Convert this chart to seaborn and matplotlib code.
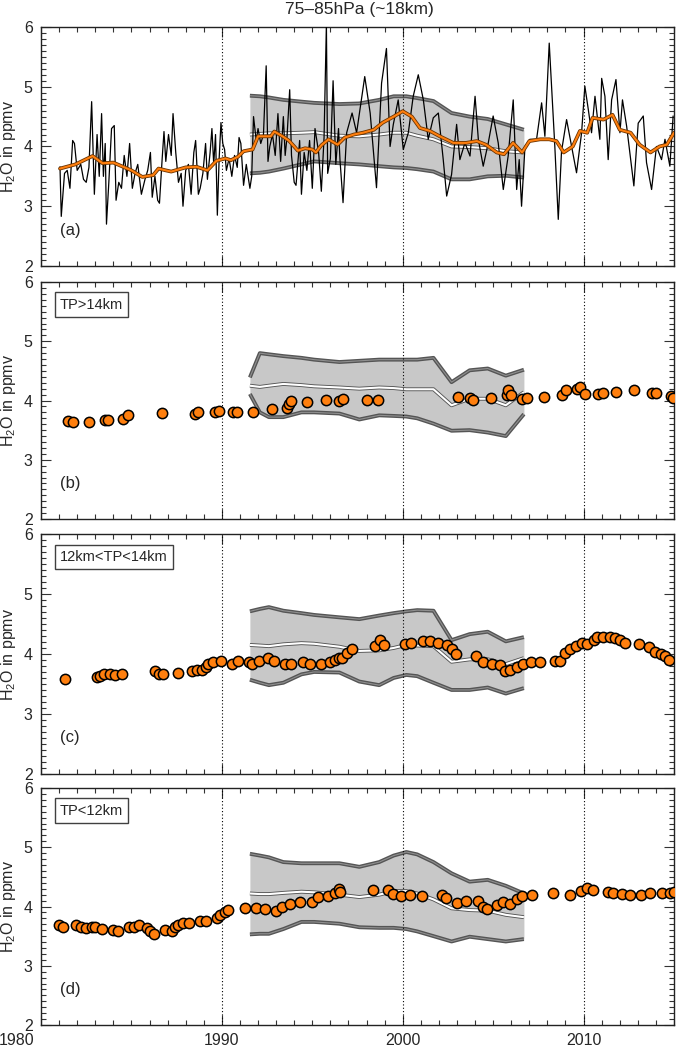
import numpy as np
import pandas as pd
import matplotlib
matplotlib.use('Agg')
import matplotlib.pyplot as plt
import matplotlib.patheffects as pe
import matplotlib.transforms as mtransforms
from matplotlib.ticker import MultipleLocator
import seaborn as sns

# Panel (a): monthly series (black) and running mean (orange)
raw_year = [1981.05, 1981.12, 1981.3, 1981.45, 1981.6, 1981.75, 1981.85, 1982.0, 1982.2, 1982.35,
            1982.5, 1982.65, 1982.8, 1982.95, 1983.1, 1983.22, 1983.35, 1983.45, 1983.55, 1983.62,
            1983.75, 1983.9, 1984.05, 1984.15, 1984.3, 1984.45, 1984.6, 1984.75, 1984.9, 1985.05,
            1985.2, 1985.35, 1985.55, 1985.75, 1985.9, 1986.05, 1986.15, 1986.3, 1986.45, 1986.55,
            1986.7, 1986.8, 1986.9, 1987.05, 1987.2, 1987.3, 1987.45, 1987.6, 1987.75, 1987.85,
            1988.0, 1988.15, 1988.3, 1988.45, 1988.55, 1988.7, 1988.8, 1988.95, 1989.1, 1989.2,
            1989.35, 1989.45, 1989.55, 1989.65, 1989.75, 1989.85, 1989.95, 1990.05, 1990.15, 1990.25,
            1990.4, 1990.55, 1990.7, 1990.85, 1990.95, 1991.05, 1991.2, 1991.35, 1991.55, 1991.65,
            1991.75, 1991.9, 1992.0, 1992.15, 1992.3, 1992.45, 1992.55, 1992.65, 1992.8, 1992.95,
            1993.1, 1993.25, 1993.4, 1993.5, 1993.6, 1993.75, 1993.85, 1994.0, 1994.1, 1994.3,
            1994.4, 1994.55, 1994.7, 1994.85, 1995.0, 1995.15, 1995.35, 1995.5, 1995.65, 1995.78,
            1995.85, 1996.0, 1996.15, 1996.3, 1996.45, 1996.53, 1996.7, 1996.9, 1997.2, 1997.45,
            1997.9, 1998.2, 1998.55, 1998.83, 1999.1, 1999.3, 1999.48, 1999.75, 2000.03, 2000.31,
            2000.58, 2000.86, 2001.14, 2001.41, 2001.69, 2001.97, 2002.24, 2002.43, 2002.7, 2002.98,
            2003.16, 2003.44, 2003.72, 2004.0, 2004.18, 2004.45, 2004.73, 2005.0, 2005.28, 2005.56,
            2005.83, 2006.11, 2006.3, 2006.44, 2006.57, 2006.76, 2007.03, 2007.4, 2007.68, 2007.86,
            2008.1, 2008.41, 2008.6, 2008.78, 2009.06, 2009.34, 2009.61, 2009.89, 2010.07, 2010.26,
            2010.44, 2010.63, 2010.9, 2011.0, 2011.18, 2011.36, 2011.55, 2011.79, 2012.01, 2012.15,
            2012.38, 2012.56, 2012.78, 2013.02, 2013.3, 2013.48, 2013.76, 2014.03, 2014.31, 2014.5,
            2014.77, 2014.95]
raw_h2o = [3.66, 2.83, 3.55, 3.6, 3.3, 4.1, 4.05, 3.6, 3.7, 3.45,
           3.4, 3.65, 4.75, 3.2, 4.2, 3.5, 4.55, 3.5, 4.05, 2.7,
           3.4, 4.3, 4.35, 3.1, 3.4, 3.3, 3.85, 3.5, 4.05, 3.3,
           3.55, 3.7, 3.2, 3.45, 3.6, 3.9, 3.15, 3.5, 3.1, 3.05,
           3.8, 4.25, 3.75, 4.2, 3.85, 4.55, 3.9, 3.4, 3.55, 3.0,
           3.6, 3.7, 3.2, 3.9, 4.1, 3.2, 3.3, 3.55, 4.05, 3.45,
           3.9, 4.3, 3.7, 4.2, 2.85, 3.8, 4.4, 4.05, 3.95, 3.6,
           3.8, 3.5, 3.85, 3.65, 4.15, 4.05, 3.35, 3.7, 3.3, 3.5,
           4.5, 4.1, 4.3, 4.05, 4.2, 5.35, 3.75, 4.0, 4.2, 3.85,
           4.55, 3.75, 4.5, 3.85, 4.15, 4.95, 3.85, 3.4, 3.35, 4.1,
           3.2, 3.9, 3.6, 4.1, 3.3, 4.3, 3.9, 3.25, 4.15, 6.05,
           3.55, 3.8, 5.1, 3.7, 4.3, 3.78, 3.06, 4.23, 4.56, 4.23,
           5.17, 4.56, 3.31, 5.06, 5.64, 4.0, 4.37, 4.78, 3.95, 4.23,
           4.84, 5.2, 4.78, 4.12, 4.48, 4.56, 3.78, 3.17, 3.53, 4.37,
           3.78, 4.06, 3.84, 4.84, 4.12, 3.67, 4.06, 4.51, 4.06, 3.28,
           3.84, 4.78, 3.28, 3.78, 3.0, 4.0, 4.12, 4.12, 4.73, 4.17,
           5.73, 4.0, 2.78, 3.92, 4.45, 4.0, 3.56, 4.23, 5.01, 4.62,
           4.23, 4.84, 4.12, 5.14, 4.84, 3.78, 4.78, 5.12, 4.23, 4.78,
           4.34, 3.89, 3.34, 4.39, 4.51, 3.73, 3.28, 4.0, 3.78, 4.12,
           3.67, 4.51]

mean_year = [1981.05, 1981.9, 1982.85, 1983.4, 1984.0, 1985.0, 1985.6, 1986.2, 1986.5, 1986.9,
             1987.2, 1988.0, 1988.6, 1989.2, 1989.7, 1990.2, 1990.5, 1990.9, 1991.2, 1991.7,
             1992.0, 1992.7, 1992.9, 1993.3, 1993.7, 1994.0, 1994.2, 1994.6, 1995.0, 1995.2,
             1995.5, 1995.9, 1996.4, 1996.8, 1997.3, 1997.8, 1998.4, 1998.9, 1999.5, 2000.0,
             2000.5, 2000.95, 2001.5, 2002.05, 2002.8, 2003.5, 2004.1, 2004.6, 2005.2, 2005.6,
             2006.1, 2006.6, 2007.0, 2007.6, 2008.1, 2008.5, 2008.9, 2009.4, 2009.8, 2010.2,
             2010.5, 2011.1, 2011.6, 2012.0, 2012.6, 2013.1, 2013.7, 2014.2, 2014.6, 2015.0]
mean_h2o = [3.63, 3.7, 3.84, 3.72, 3.73, 3.6, 3.49, 3.52, 3.63, 3.6,
            3.58, 3.65, 3.66, 3.6, 3.76, 3.8, 3.77, 3.83, 3.92, 3.95,
            4.17, 4.17, 4.25, 4.18, 4.1, 4.0, 3.93, 3.97, 3.95, 3.9,
            4.02, 4.12, 4.03, 4.15, 4.2, 4.23, 4.28, 4.4, 4.5, 4.59,
            4.5, 4.31, 4.26, 4.17, 4.06, 4.06, 4.09, 4.03, 3.9, 3.87,
            4.06, 3.9, 4.09, 4.12, 4.12, 4.09, 3.9, 4.0, 4.26, 4.23,
            4.48, 4.45, 4.53, 4.28, 4.23, 4.03, 3.9, 4.0, 4.03, 4.23]

# Grey bands (model range) for each panel
band_year = [1991.55, 1992.1, 1992.6, 1993.4, 1994.4, 1995.1, 1996.5, 1997.6, 1998.7, 1999.5,
             2000.2, 2000.8, 2001.7, 2002.7, 2003.7, 2004.7, 2005.7, 2006.7]
band_a_hi = [4.85, 4.84, 4.82, 4.78, 4.75, 4.73, 4.71, 4.72, 4.78, 4.84,
             4.84, 4.81, 4.76, 4.56, 4.5, 4.46, 4.37, 4.28]
band_a_mid = [4.2, 4.21, 4.22, 4.22, 4.23, 4.24, 4.18, 4.17, 4.2, 4.23,
              4.23, 4.18, 4.12, 4.0, 3.99, 3.97, 3.92, 3.9]
band_a_lo = [3.55, 3.56, 3.58, 3.63, 3.7, 3.75, 3.72, 3.7, 3.67, 3.65,
             3.64, 3.62, 3.58, 3.45, 3.45, 3.5, 3.51, 3.48]
band_b_hi = [4.39, 4.8, 4.78, 4.75, 4.72, 4.69, 4.65, 4.67, 4.69, 4.69,
             4.69, 4.69, 4.72, 4.31, 4.51, 4.54, 4.42, 4.52]
band_b_mid = [4.25, 4.23, 4.25, 4.28, 4.26, 4.24, 4.22, 4.2, 4.22, 4.21,
              4.19, 4.19, 4.19, 3.92, 4.03, 4.03, 3.92, 4.14]
band_b_lo = [4.11, 3.8, 3.72, 3.72, 3.8, 3.8, 3.78, 3.68, 3.75, 3.74,
             3.73, 3.7, 3.61, 3.49, 3.5, 3.46, 3.4, 3.77]
band_c_hi = [4.71, 4.75, 4.78, 4.72, 4.68, 4.65, 4.61, 4.58, 4.64, 4.68,
             4.71, 4.73, 4.72, 4.23, 4.33, 4.37, 4.21, 4.28]
band_c_mid = [4.15, 4.14, 4.13, 4.16, 4.18, 4.17, 4.12, 4.05, 4.06, 4.1,
              4.15, 4.14, 4.13, 3.87, 3.91, 3.91, 3.83, 3.93]
band_c_lo = [3.57, 3.52, 3.48, 3.52, 3.66, 3.7, 3.69, 3.54, 3.48, 3.6,
             3.65, 3.63, 3.52, 3.4, 3.4, 3.44, 3.34, 3.43]
band_d_hi = [4.89, 4.86, 4.83, 4.75, 4.73, 4.73, 4.73, 4.67, 4.75, 4.86,
             4.92, 4.88, 4.75, 4.56, 4.42, 4.45, 4.35, 4.22]
band_d_mid = [4.22, 4.21, 4.21, 4.23, 4.25, 4.24, 4.2, 4.16, 4.2, 4.26,
              4.26, 4.22, 4.12, 3.97, 3.94, 3.93, 3.86, 3.82]
band_d_lo = [3.53, 3.54, 3.54, 3.62, 3.74, 3.74, 3.71, 3.65, 3.64, 3.64,
             3.62, 3.58, 3.5, 3.41, 3.49, 3.45, 3.41, 3.45]

# Panel (b): TP>14km
b_year = [1981.5, 1981.78, 1982.67, 1983.53, 1983.72, 1984.55, 1984.8, 1986.67, 1988.51, 1988.69,
          1989.61, 1989.85, 1990.63, 1990.81, 1991.73, 1992.75, 1993.61, 1993.72, 1993.8, 1994.68,
          1995.75, 1996.5, 1996.7, 1998.0, 1998.65, 2003.07, 2003.7, 2003.86, 2004.86, 2005.74,
          2005.84, 2005.96, 2006.57, 2006.85, 2007.8, 2008.78, 2009.02, 2009.61, 2009.8, 2010.07,
          2010.81, 2011.05, 2011.79, 2012.78, 2013.76, 2014.03, 2014.83, 2014.96]
b_h2o = [3.66, 3.63, 3.63, 3.67, 3.67, 3.68, 3.75, 3.79, 3.78, 3.81,
         3.81, 3.82, 3.81, 3.81, 3.81, 3.86, 3.87, 3.94, 3.99, 3.98,
         4.01, 4.0, 4.03, 4.01, 4.01, 4.06, 4.04, 4.01, 4.04, 4.1,
         4.18, 4.1, 4.03, 4.04, 4.06, 4.1, 4.17, 4.19, 4.22, 4.11,
         4.11, 4.12, 4.14, 4.17, 4.12, 4.12, 4.08, 4.04]

# Panel (c): 12km<TP<14km
c_year = [1981.32, 1983.07, 1983.26, 1983.48, 1983.81, 1984.09, 1984.46, 1986.3, 1986.54, 1986.76,
          1987.55, 1988.33, 1988.6, 1988.88, 1989.12, 1989.25, 1989.49, 1989.93, 1990.54, 1990.9,
          1991.51, 1991.64, 1992.07, 1992.56, 1992.88, 1993.48, 1993.8, 1994.5, 1994.87, 1995.46,
          1995.97, 1996.25, 1996.49, 1996.62, 1996.9, 1997.17, 1998.46, 1998.74, 1998.96, 2000.12,
          2000.44, 2001.14, 2001.5, 2001.97, 2002.46, 2002.7, 2002.94, 2004.05, 2004.45, 2004.91,
          2005.37, 2005.65, 2005.93, 2006.3, 2006.66, 2007.12, 2007.59, 2008.41, 2008.69, 2008.97,
          2009.24, 2009.58, 2009.89, 2010.17, 2010.57, 2010.72, 2011.09, 2011.45, 2011.73, 2012.01,
          2012.28, 2013.08, 2013.63, 2013.94, 2014.26, 2014.5, 2014.74]
c_h2o = [3.59, 3.61, 3.63, 3.67, 3.67, 3.65, 3.67, 3.71, 3.67, 3.67,
         3.69, 3.71, 3.73, 3.74, 3.79, 3.84, 3.87, 3.88, 3.84, 3.88,
         3.87, 3.84, 3.89, 3.93, 3.89, 3.84, 3.83, 3.86, 3.84, 3.83,
         3.86, 3.9, 3.94, 3.93, 4.01, 4.09, 4.13, 4.23, 4.15, 4.17,
         4.19, 4.22, 4.22, 4.18, 4.15, 4.09, 4.0, 3.96, 3.86, 3.83,
         3.81, 3.71, 3.74, 3.79, 3.83, 3.87, 3.87, 3.89, 3.89, 4.02,
         4.09, 4.13, 4.19, 4.17, 4.23, 4.28, 4.29, 4.28, 4.26, 4.23,
         4.19, 4.17, 4.11, 4.04, 4.0, 3.97, 3.9]

# Panel (d): TP<12km
d_year = [1981.01, 1981.19, 1981.93, 1982.19, 1982.48, 1982.8, 1982.98, 1983.35, 1983.96, 1984.27,
          1984.88, 1985.14, 1985.43, 1985.84, 1986.02, 1986.24, 1986.85, 1987.22, 1987.4, 1987.59,
          1987.86, 1988.2, 1988.79, 1989.15, 1989.71, 1989.89, 1990.17, 1990.35, 1991.27, 1991.88,
          1992.38, 1993.02, 1993.3, 1993.76, 1994.31, 1994.96, 1995.33, 1995.88, 1996.25, 1996.49,
          1996.53, 1998.34, 1999.2, 1999.48, 1999.88, 2000.4, 2001.04, 2002.15, 2002.39, 2002.98,
          2003.5, 2004.18, 2004.45, 2004.64, 2005.19, 2005.56, 2005.93, 2006.3, 2006.57, 2007.13,
          2008.32, 2009.24, 2009.83, 2010.17, 2010.53, 2011.36, 2011.64, 2012.1, 2012.56, 2013.2,
          2013.67, 2014.31, 2014.77, 2015.0]
d_h2o = [3.68, 3.66, 3.68, 3.66, 3.63, 3.65, 3.66, 3.62, 3.61, 3.58,
         3.65, 3.66, 3.68, 3.64, 3.58, 3.54, 3.6, 3.58, 3.66, 3.69,
         3.72, 3.72, 3.75, 3.75, 3.8, 3.86, 3.9, 3.94, 3.97, 3.98,
         3.96, 3.93, 4.0, 4.04, 4.07, 4.08, 4.16, 4.17, 4.22, 4.29,
         4.25, 4.28, 4.28, 4.21, 4.17, 4.2, 4.17, 4.2, 4.14, 4.06,
         4.1, 4.1, 4.0, 3.96, 4.03, 4.08, 4.04, 4.12, 4.17, 4.2,
         4.22, 4.2, 4.27, 4.32, 4.28, 4.25, 4.22, 4.21, 4.2, 4.2,
         4.22, 4.23, 4.23, 4.25]

panel_labels = ['(a)', '(b)', '(c)', '(d)']
box_labels = [None, 'TP>14km', '12km<TP<14km', 'TP<12km']
title = '75\u201385hPa (~18km)'
ylabel = 'H$_2$O in ppmv'

orange = '#ff7f0e'
edge_dark = '#555555'

sns.set_theme(style='ticks')
plt.rcParams['font.family'] = ['Liberation Sans', 'DejaVu Sans']
plt.rcParams['mathtext.fontset'] = 'custom'
plt.rcParams['mathtext.rm'] = 'Liberation Sans'
plt.rcParams['mathtext.it'] = 'Liberation Sans:italic'

fig = plt.figure(figsize=(6.8, 10.5), dpi=100)
left, width = 0.0603, 0.9309
boxes = [(0.7467, 0.2276), (0.5057, 0.2257), (0.2629, 0.2286), (0.0238, 0.2257)]
bands = [(band_a_lo, band_a_mid, band_a_hi), (band_b_lo, band_b_mid, band_b_hi),
         (band_c_lo, band_c_mid, band_c_hi), (band_d_lo, band_d_mid, band_d_hi)]
dots = [None, (b_year, b_h2o), (c_year, c_h2o), (d_year, d_h2o)]

for i in range(4):
    ax = fig.add_axes([left, boxes[i][0], width, boxes[i][1]])
    lo, mid, hi = bands[i]

    # model band
    ax.fill_between(band_year, lo, hi, color='#c8c8c8', lw=0, zorder=1)
    for edge in (lo, hi):
        ax.plot(band_year, edge, color=edge_dark, lw=2.8, zorder=2, solid_capstyle='butt')
        ax.plot(band_year, edge, color='#909090', lw=0.8, zorder=2.1, solid_capstyle='butt')
    ax.plot(band_year, mid, color=edge_dark, lw=2.8, zorder=2, solid_capstyle='butt')
    ax.plot(band_year, mid, color='white', lw=1.5, zorder=2.1, solid_capstyle='butt')

    for yr in (1990, 2000, 2010):
        ax.axvline(yr, color='black', lw=0.8, ls=(0, (1, 2)), zorder=2.5)

    if i == 0:
        sns.lineplot(x=raw_year, y=raw_h2o, ax=ax, color='black', lw=0.9,
                     estimator=None, sort=False, zorder=3)
        sns.lineplot(x=mean_year, y=mean_h2o, ax=ax, color=orange, lw=1.5,
                     estimator=None, sort=False, zorder=4,
                     path_effects=[pe.Stroke(linewidth=2.7, foreground='#6b3300'), pe.Normal()])
    else:
        dx, dy = dots[i]
        sns.scatterplot(x=dx, y=dy, ax=ax, color=orange, s=55, edgecolor='black',
                        linewidth=1.1, zorder=4, legend=False)
        ax.text(0.03, 0.905, box_labels[i], transform=ax.transAxes, fontsize=10.5,
                ha='left', va='center',
                bbox=dict(boxstyle='square,pad=0.35', fc='white', ec='#404040', lw=1.0))

    ax.text(0.03, 0.15, panel_labels[i], transform=ax.transAxes, fontsize=12,
            ha='left', va='center')

    ax.set_xlim(1980, 2015)
    ax.set_ylim(2, 6)
    ax.xaxis.set_major_locator(MultipleLocator(10))
    ax.xaxis.set_minor_locator(MultipleLocator(1))
    ax.yaxis.set_major_locator(MultipleLocator(1))
    ax.yaxis.set_minor_locator(MultipleLocator(0.1))
    ax.tick_params(which='both', direction='in', top=True, right=True,
                   labelsize=11.5, width=0.8, color='#333333')
    ax.tick_params(which='major', length=7, pad=6)
    ax.tick_params(which='minor', length=3.5)
    for s in ax.spines.values():
        s.set_linewidth(1.0)
        s.set_color('#222222')
    ax.set_ylabel(ylabel, fontsize=11.5)
    ax.yaxis.set_label_coords(-0.037, 0.5)
    ax.set_xlabel('')
    if i < 3:
        ax.tick_params(axis='x', labelbottom=False)
    else:
        ax.tick_params(axis='x', pad=6)
        ax.set_xticks([1980, 1990, 2000, 2010])
        # first year label sits left of the axis corner, as in the original
        first = ax.get_xticklabels()[0]
        first.set_transform(first.get_transform() +
                            mtransforms.ScaledTranslation(-24 / 100, 0, fig.dpi_scale_trans))

fig.text(0.529, 0.991, title, ha='center', va='center', fontsize=12.5)
fig.savefig('out.png', dpi=100)
